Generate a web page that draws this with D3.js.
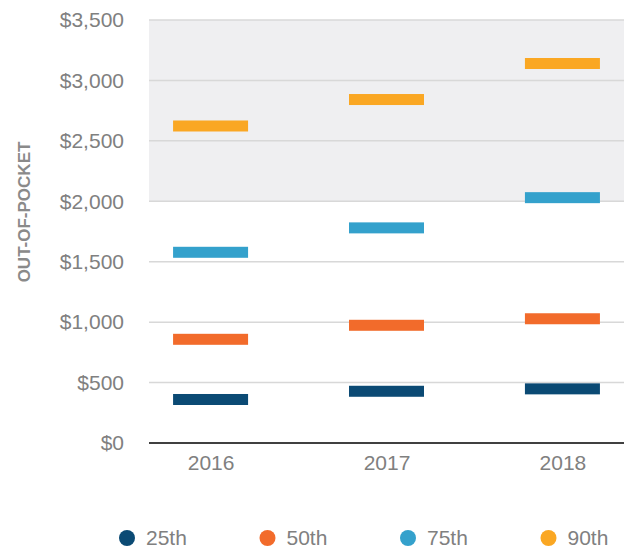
<!DOCTYPE html>
<meta charset="utf-8">
<script src="https://d3js.org/d3.v7.min.js"></script>
<style>
  body { margin: 0; background: #fff; }
  text { font-family: "Liberation Sans", Arial, sans-serif; fill: #808080; }
</style>
<div id="my_dataviz"></div>
<script>

// data
var years = ["2016", "2017", "2018"];
var percentiles = ["25th", "50th", "75th", "90th"];
var p25 = [360, 428, 448];
var p50 = [858, 974, 1028];
var p75 = [1578, 1780, 2030];
var p90 = [2623, 2842, 3140];
var yTicks = [0, 500, 1000, 1500, 2000, 2500, 3000, 3500];
var colors = ["#0b4a74", "#f26b2b", "#34a1cc", "#faa723"];

var series = [p25, p50, p75, p90].map(function(vals, i) {
  return { key: percentiles[i], values: vals };
});

var width = 626, height = 548;
var margin = {top: 20, right: 2, bottom: 105, left: 149};

var svg = d3.select("#my_dataviz")
  .append("svg")
    .attr("width", width)
    .attr("height", height);

var x = d3.scalePoint()
    .domain(years)
    .range([margin.left, width - margin.right])
    .padding(0.35);

var y = d3.scaleLinear()
    .domain([0, 3500])
    .range([height - margin.bottom, margin.top]);

// shaded upper band
svg.append("rect")
    .attr("x", margin.left)
    .attr("width", width - margin.right - margin.left)
    .attr("y", y(3500))
    .attr("height", y(2000) - y(3500))
    .style("fill", "#efeff1");

// gridlines
svg.selectAll(".grid")
  .data(yTicks.slice(1))
  .enter()
  .append("line")
    .attr("x1", margin.left)
    .attr("x2", width - margin.right)
    .attr("y1", function(d) { return y(d); })
    .attr("y2", function(d) { return y(d); })
    .style("stroke", "#d8d8d8")
    .style("stroke-width", 1.5);

// Y axis
var yAxis = svg.append("g")
    .attr("transform", "translate(" + margin.left + ",0)")
    .call(d3.axisLeft(y).tickValues(yTicks).tickSize(0).tickPadding(25)
      .tickFormat(function(d) { return "$" + d3.format(",")(d); }));
yAxis.select(".domain").remove();
yAxis.selectAll("text").style("font-size", "21px").style("fill", "#808080")
    .style("font-family", "Liberation Sans, Arial, sans-serif");

// baseline
svg.append("line")
    .attr("x1", margin.left)
    .attr("x2", width - margin.right)
    .attr("y1", y(0))
    .attr("y2", y(0))
    .style("stroke", "#000")
    .style("stroke-width", 1.5);

// X axis labels
var xAxis = svg.append("g")
    .attr("transform", "translate(0," + y(0) + ")")
    .call(d3.axisBottom(x).tickSize(0).tickPadding(12));
xAxis.select(".domain").remove();
xAxis.selectAll("text").style("font-size", "21px").style("fill", "#808080")
    .style("font-family", "Liberation Sans, Arial, sans-serif");

// Y axis title
svg.append("text")
    .attr("transform", "translate(30," + 212 + ") rotate(-90)")
    .attr("text-anchor", "middle")
    .style("font-size", "17px")
    .style("font-weight", "bold")
    .style("fill", "#8a8a8a")
    .text("OUT-OF-POCKET");

// percentile marks
var barW = 75, barH = 11;
svg.selectAll(".series")
  .data(series)
  .enter()
  .append("g")
    .style("fill", function(d, i) { return colors[i]; })
  .selectAll("rect")
  .data(function(d) { return d.values; })
  .enter()
  .append("rect")
    .attr("x", function(d, i) { return x(years[i]) - barW / 2; })
    .attr("y", function(d) { return y(d) - barH / 2; })
    .attr("width", barW)
    .attr("height", barH);

// legend
var legend = svg.selectAll(".legend")
  .data(percentiles)
  .enter()
  .append("g")
    .attr("transform", function(d, i) { return "translate(" + (127 + i * 140.5) + ",538)"; });
legend.append("circle")
    .attr("r", 8)
    .style("fill", function(d, i) { return colors[i]; });
legend.append("text")
    .attr("x", 19)
    .attr("dy", "0.35em")
    .style("font-size", "21px")
    .text(function(d) { return d; });

</script>
